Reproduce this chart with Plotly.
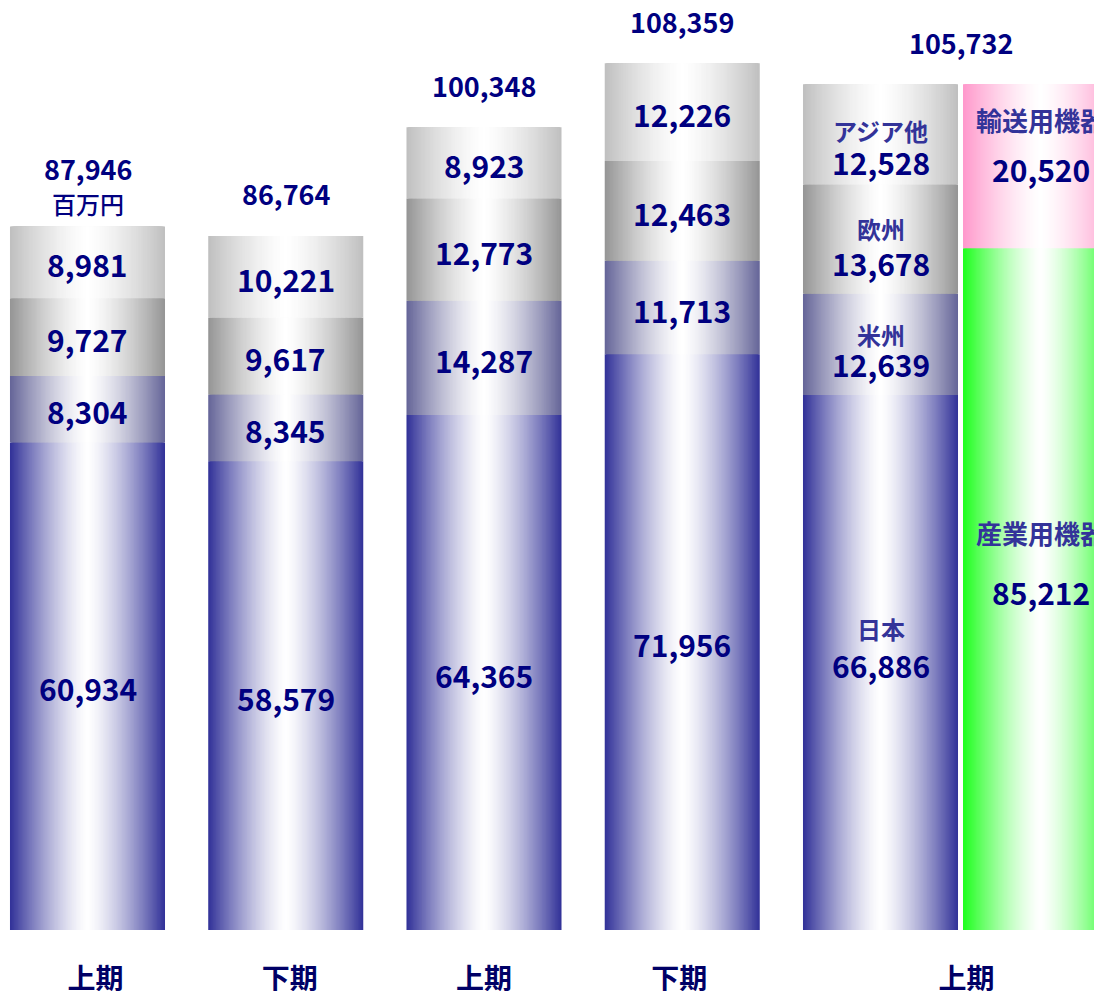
import plotly.graph_objects as go

# ---------------- data ----------------
periods = ["上期", "下期", "上期", "下期", "上期"]
region_names = ["日本", "米州", "欧州", "アジア他"]
japan = [60934, 58579, 64365, 71956, 66886]
americas = [8304, 8345, 14287, 11713, 12639]
europe = [9727, 9617, 12773, 12463, 13678]
asia = [8981, 10221, 8923, 12226, 12528]
totals = [87946, 86764, 100348, 108359, 105732]
product_names = ["産業用機器", "輸送用機器"]
industrial = [85212]
transport = [20520]
unit_label = "百万円"

# ---------------- style ----------------
NAVY = "#000080"
NAME_COL = "#333399"
FONT = "Noto Sans CJK JP"
region_edge = ["#333399", "#666699", "#969696", "#C0C0C0"]
product_edge = ["#1EFF1E", "#FF99CC"]
BAR_W = 0.782          # bar width in axis units
GAP = 0.0252           # gap between last region bar and product bar
PX = 1 / 198.25        # one pixel in x-axis units
N_LAYERS = 60
GAMMA = 1.4
tick_nudge_px = [8, 4, 0, -3, 6]

def hex2rgb(h):
    h = h.lstrip("#")
    return tuple(int(h[i:i + 2], 16) for i in (0, 2, 4))

def mix(edge, t):
    r, g, b = hex2rgb(edge)
    return "rgb(%d,%d,%d)" % (round(255 + (r - 255) * t), round(255 + (g - 255) * t), round(255 + (b - 255) * t))

# ---------------- build segments ----------------
x_pos = list(range(len(periods)))
x_prod = x_pos[-1] + BAR_W + GAP
region_series = [japan, americas, europe, asia]

seg_x, seg_base, seg_h, seg_edge = [], [], [], []
for i, xp in enumerate(x_pos):
    cum = 0
    for s, series in enumerate(region_series):
        seg_x.append(xp)
        seg_base.append(cum)
        seg_h.append(series[i])
        seg_edge.append(region_edge[s])
        cum += series[i]
cum = 0
for p, series in enumerate([industrial, transport]):
    seg_x.append(x_prod)
    seg_base.append(cum)
    seg_h.append(series[0])
    seg_edge.append(product_edge[p])
    cum += series[0]

fig = go.Figure()
for k in range(N_LAYERS):
    frac = 1 - k / N_LAYERS
    t = frac ** GAMMA
    fig.add_trace(go.Bar(
        x=seg_x, y=seg_h, base=seg_base,
        width=[BAR_W * frac] * len(seg_x),
        marker=dict(color=[mix(e, t) for e in seg_edge], line=dict(width=0)),
        hoverinfo="skip", showlegend=False,
    ))

annotations = []
num_font = dict(family=FONT, size=30, color=NAVY, weight="bold")
name_font = dict(family=FONT, size=24, color=NAME_COL, weight="bold")

# value labels in bars 1-4
for i in range(len(periods) - 1):
    cum = 0
    for series in region_series:
        v = series[i]
        annotations.append(dict(x=x_pos[i], y=cum + v / 2, text=f"{v:,}", showarrow=False,
                                font=num_font, yshift=-2, xanchor="center", yanchor="middle"))
        cum += v

# last period: names + values
last = len(periods) - 1
name_shift = [34, 10, 11, 4]
val_shift = [-3, -20, -24, -28]
cum = 0
for s, series in enumerate(region_series):
    v = series[last]
    c = cum + v / 2
    annotations.append(dict(x=x_pos[last], y=c, text=region_names[s], showarrow=False,
                            font=name_font, yshift=name_shift[s], yanchor="middle"))
    annotations.append(dict(x=x_pos[last], y=c, text=f"{v:,}", showarrow=False,
                            font=num_font, yshift=val_shift[s], yanchor="middle"))
    cum += v

prod_name_shift = [57, 47]
cum = 0
for p, series in enumerate([industrial, transport]):
    v = series[0]
    c = cum + v / 2
    annotations.append(dict(x=x_prod, y=c, text=product_names[p], showarrow=False,
                            font=dict(family=FONT, size=26, color=NAME_COL, weight="bold"),
                            yshift=prod_name_shift[p], yanchor="middle"))
    annotations.append(dict(x=x_prod, y=c, text=f"{v:,}", showarrow=False,
                            font=num_font, yshift=-3, yanchor="middle"))
    cum += v

# totals
tot_font = dict(family=FONT, size=27, color=NAVY, weight="bold")
for i in range(len(periods)):
    xx = x_pos[i] if i < last else (x_pos[last] + x_prod) / 2
    annotations.append(dict(x=xx, y=totals[i], text=f"{totals[i]:,}", showarrow=False,
                            font=tot_font, yshift=58 if i == 0 else 42, yanchor="middle"))
annotations.append(dict(x=x_pos[0], y=totals[0], text=unit_label, showarrow=False,
                        font=dict(family=FONT, size=24, color=NAVY, weight=500),
                        yshift=23, yanchor="middle"))

tick_base = x_pos[:-1] + [(x_pos[last] + x_prod) / 2]
tick_vals = [tb + n * PX for tb, n in zip(tick_base, tick_nudge_px)]

# The page body has an 8px margin, so the figure starts at (8, 8) of the window.
fig.update_layout(
    width=1094, height=983,
    margin=dict(l=0, r=0, t=0, b=61),
    paper_bgcolor="white", plot_bgcolor="white",
    barmode="overlay", showlegend=False,
    annotations=annotations,
    xaxis=dict(range=[-0.4010, 5.1173], tickvals=tick_vals, ticktext=periods,
               tickfont=dict(family=FONT, size=28, color="#000066", weight="bold"),
               showgrid=False, zeroline=False, showline=False, automargin=False,
               ticks="outside", ticklen=24, tickcolor="rgba(0,0,0,0)", fixedrange=True),
    yaxis=dict(range=[0, 115250], visible=False, fixedrange=True, automargin=False),
)

fig.write_html("out.html")
